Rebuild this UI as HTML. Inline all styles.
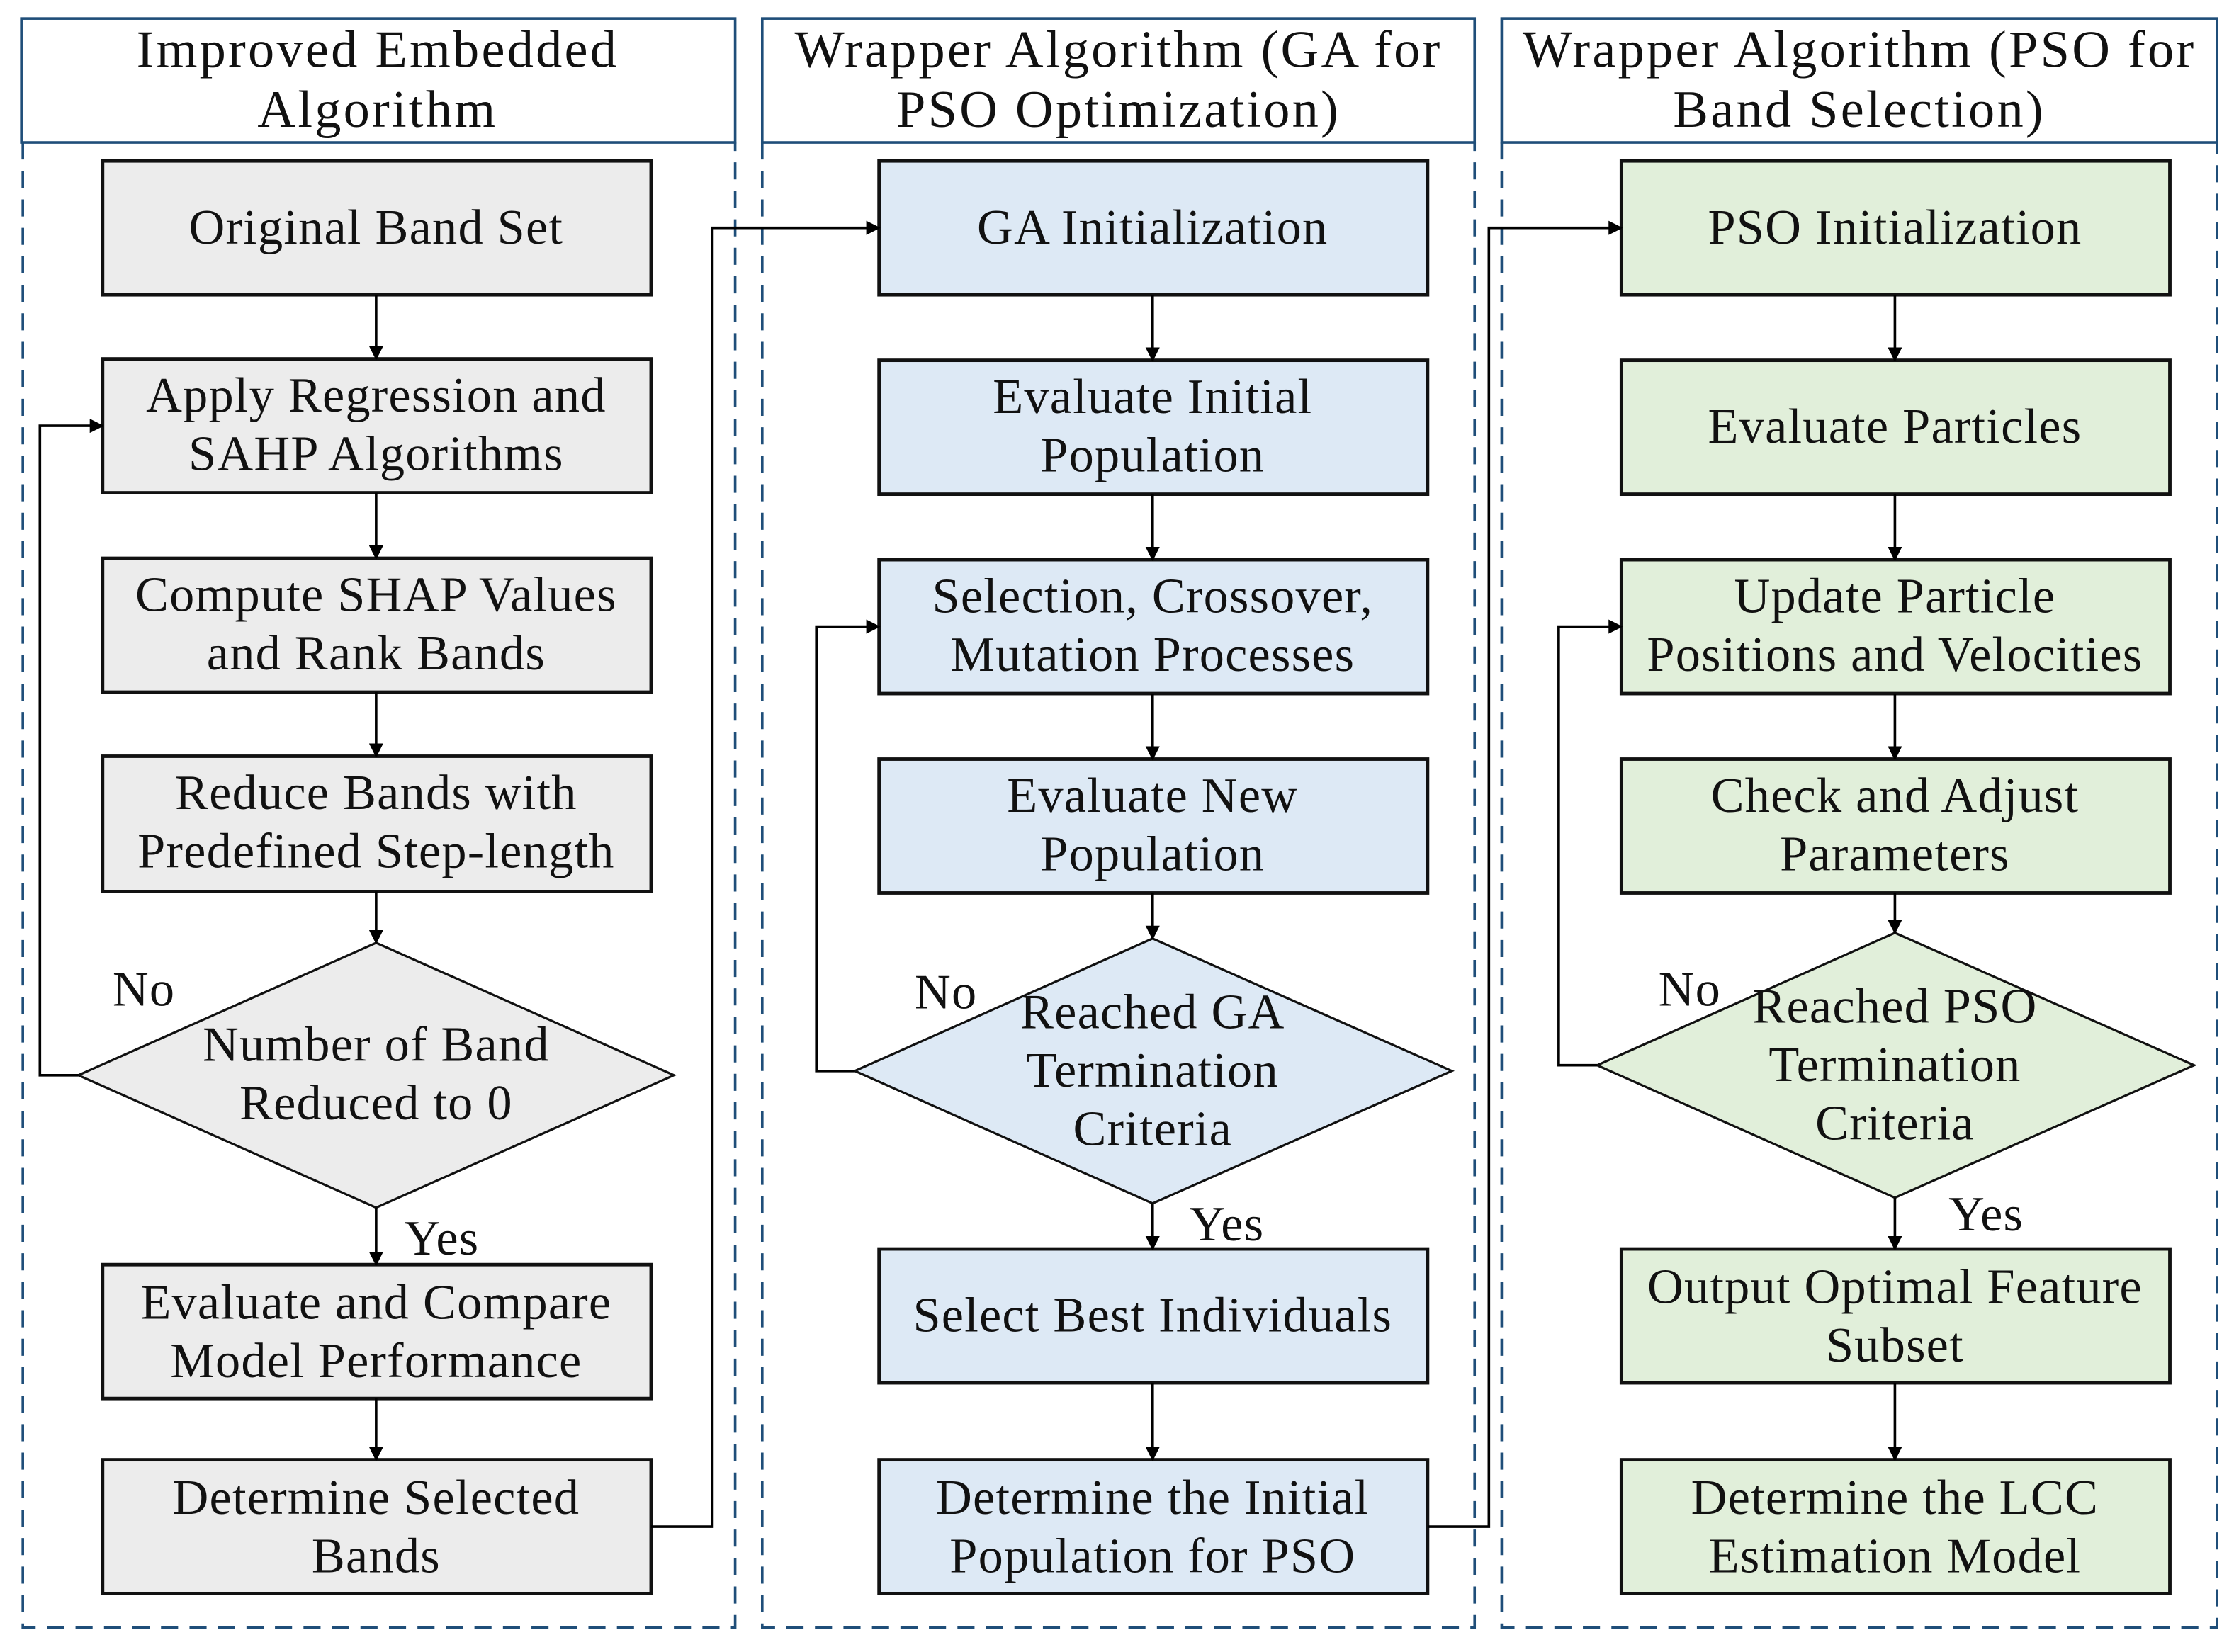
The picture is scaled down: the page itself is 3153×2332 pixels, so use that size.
<!DOCTYPE html>
<html><head><meta charset="utf-8"><style>
html,body{margin:0;padding:0;background:#fff;}
svg{display:block;}
text{font-family:"Liberation Serif",serif;font-size:35px;letter-spacing:0.6px;fill:#111;text-anchor:middle;}
text.h{font-size:37px;letter-spacing:1.6px;}
</style></head><body>
<svg width="3153" height="2332" viewBox="0 0 1568 1160" preserveAspectRatio="none" xmlns="http://www.w3.org/2000/svg">
<defs><marker id="a" markerWidth="10" markerHeight="10" refX="9" refY="5" orient="auto" markerUnits="userSpaceOnUse"><path d="M0,0 L10,5 L0,10 z" fill="#000"/></marker></defs>
<g fill="none" stroke="#1f4e79" stroke-width="1.8">
<rect x="15" y="13" width="501" height="87"/>
<rect x="535" y="13" width="500" height="87"/>
<rect x="1054" y="13" width="502" height="87"/>
<path d="M16,100 V1143 H516 V100 M535,100 V1143 H1035 V100 M1054,100 V1143 H1556 V100" stroke-dasharray="12,8"/>
</g>
<text class="h" x="265" y="47">Improved Embedded</text><text class="h" x="265" y="89">Algorithm</text>
<text class="h" x="785" y="47">Wrapper Algorithm (GA for</text><text class="h" x="785" y="89">PSO Optimization)</text>
<text class="h" x="1305" y="47">Wrapper Algorithm (PSO for</text><text class="h" x="1305" y="89">Band Selection)</text>
<g stroke="#111" stroke-width="2.4">
<g fill="#ececec">
<rect x="72" y="113" width="385" height="94"/><rect x="72" y="252" width="385" height="94"/><rect x="72" y="392" width="385" height="94"/><rect x="72" y="531" width="385" height="95"/>
<polygon points="264,662 473,755 264,848 55,755" stroke-width="1.6"/>
<rect x="72" y="888" width="385" height="94"/><rect x="72" y="1025" width="385" height="94"/>
</g>
<g fill="#dde9f5">
<rect x="617" y="113" width="385" height="94"/><rect x="617" y="253" width="385" height="94"/><rect x="617" y="393" width="385" height="94"/><rect x="617" y="533" width="385" height="94"/>
<polygon points="809,659 1019,752 809,845 600,752" stroke-width="1.6"/>
<rect x="617" y="877" width="385" height="94"/><rect x="617" y="1025" width="385" height="94"/>
</g>
<g fill="#e1efda">
<rect x="1138" y="113" width="385" height="94"/><rect x="1138" y="253" width="385" height="94"/><rect x="1138" y="393" width="385" height="94"/><rect x="1138" y="533" width="385" height="94"/>
<polygon points="1330,655 1540,748 1330,841 1121,748" stroke-width="1.6"/>
<rect x="1138" y="877" width="385" height="94"/><rect x="1138" y="1025" width="385" height="94"/>
</g>
</g>
<g stroke="#000" stroke-width="1.8" fill="none" marker-end="url(#a)">
<path d="M264,207 V252"/><path d="M264,346 V392"/><path d="M264,486 V531"/><path d="M264,626 V662"/><path d="M264,848 V888"/><path d="M264,982 V1025"/>
<path d="M55,755 H28 V299 H72"/>
<path d="M457,1072 H500 V160 H617"/>
<path d="M809,207 V253"/><path d="M809,347 V393"/><path d="M809,487 V533"/><path d="M809,627 V659"/><path d="M809,845 V877"/><path d="M809,971 V1025"/>
<path d="M600,752 H573 V440 H617"/>
<path d="M1002,1072 H1045 V160 H1138"/>
<path d="M1330,207 V253"/><path d="M1330,347 V393"/><path d="M1330,487 V533"/><path d="M1330,627 V655"/><path d="M1330,841 V877"/><path d="M1330,971 V1025"/>
<path d="M1121,748 H1094 V440 H1138"/>
</g>
<text x="264" y="171">Original Band Set</text>
<text x="264" y="289">Apply Regression and</text><text x="264" y="330">SAHP Algorithms</text>
<text x="264" y="429">Compute SHAP Values</text><text x="264" y="470">and Rank Bands</text>
<text x="264" y="568">Reduce Bands with</text><text x="264" y="609">Predefined Step-length</text>
<text x="264" y="745">Number of Band</text><text x="264" y="786">Reduced to 0</text>
<text x="264" y="926">Evaluate and Compare</text><text x="264" y="967">Model Performance</text>
<text x="264" y="1063">Determine Selected</text><text x="264" y="1104">Bands</text>
<text x="101" y="706">No</text><text x="310" y="881">Yes</text>
<text x="809" y="171">GA Initialization</text>
<text x="809" y="290">Evaluate Initial</text><text x="809" y="331">Population</text>
<text x="809" y="430">Selection, Crossover,</text><text x="809" y="471">Mutation Processes</text>
<text x="809" y="570">Evaluate New</text><text x="809" y="611">Population</text>
<text x="809" y="722">Reached GA</text><text x="809" y="763">Termination</text><text x="809" y="804">Criteria</text>
<text x="809" y="935">Select Best Individuals</text>
<text x="809" y="1063">Determine the Initial</text><text x="809" y="1104">Population for PSO</text>
<text x="664" y="708">No</text><text x="861" y="871">Yes</text>
<text x="1330" y="171">PSO Initialization</text>
<text x="1330" y="311">Evaluate Particles</text>
<text x="1330" y="430">Update Particle</text><text x="1330" y="471">Positions and Velocities</text>
<text x="1330" y="570">Check and Adjust</text><text x="1330" y="611">Parameters</text>
<text x="1330" y="718">Reached PSO</text><text x="1330" y="759">Termination</text><text x="1330" y="800">Criteria</text>
<text x="1330" y="915">Output Optimal Feature</text><text x="1330" y="956">Subset</text>
<text x="1330" y="1063">Determine the LCC</text><text x="1330" y="1104">Estimation Model</text>
<text x="1186" y="706">No</text><text x="1394" y="864">Yes</text>
</svg>
</body></html>
